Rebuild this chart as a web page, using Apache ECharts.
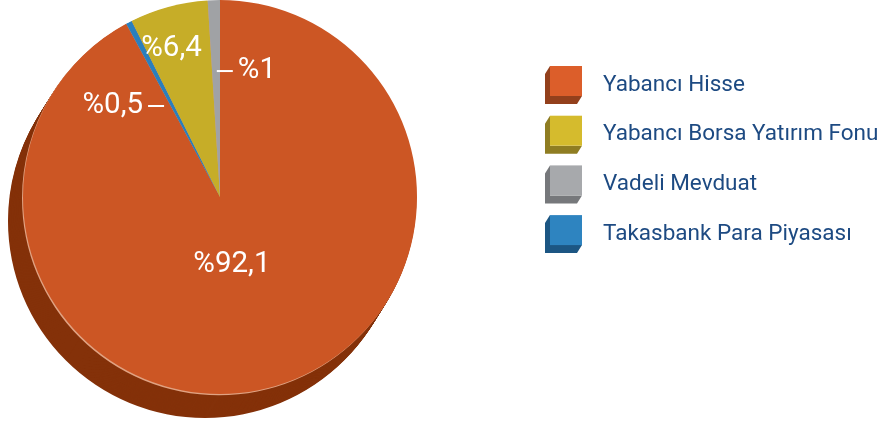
<!DOCTYPE html>
<html><head><meta charset="utf-8">
<script src="https://cdn.jsdelivr.net/npm/echarts@6/dist/echarts.min.js"></script>
<style>html,body{margin:0;padding:0;background:#fff}#c{width:878px;height:428px}</style>
</head><body><div id="c"></div>
<script>
// ---- data ----
const categories = ['Yabancı Hisse', 'Takasbank Para Piyasası', 'Yabancı Borsa Yatırım Fonu', 'Vadeli Mevduat'];
const values = [92.1, 0.5, 6.4, 1];
const labelTexts = ['%92,1', '%0,5', '%6,4', '%1'];
const legendOrder = ['Yabancı Hisse', 'Yabancı Borsa Yatırım Fonu', 'Vadeli Mevduat', 'Takasbank Para Piyasası'];

// ---- styles ----
const faceColors = {
  'Yabancı Hisse': '#cc5624',
  'Takasbank Para Piyasası': '#2a7fbd',
  'Yabancı Borsa Yatırım Fonu': '#c6ad28',
  'Vadeli Mevduat': '#a0a2a5'
};
const sideColors = {
  'Yabancı Hisse': '#843109',
  'Takasbank Para Piyasası': '#1b4f78',
  'Yabancı Borsa Yatırım Fonu': '#7d6d15',
  'Vadeli Mevduat': '#6c6e70'
};
const iconColors = {
  'Yabancı Hisse': '#dc5e2a',
  'Yabancı Borsa Yatırım Fonu': '#d5bb2d',
  'Vadeli Mevduat': '#a7a9ac',
  'Takasbank Para Piyasası': '#2e84c0'
};
const iconSideColors = {
  'Yabancı Hisse': '#93401c',
  'Yabancı Borsa Yatırım Fonu': '#8f7d22',
  'Vadeli Mevduat': '#76787b',
  'Takasbank Para Piyasası': '#1c5683'
};

const CX = 220, CY = 197, R = 197;
const DEPTH_X = -15, DEPTH_Y = 24, STEPS = 24;
const FONT = 'Roboto, "Noto Sans", sans-serif';

const dashBefore = { 3: true };
const dashAfter = { 1: true };
const labelShift = {
  0: { dx: -13, dy: -30.5 },
  1: { dx: -9, dy: -1, align: 'right' },
  2: { dx: -22, dy: -50 },
  3: { dx: 0, dy: -24.5, align: 'left' }
};

function pieData(colorMap, withLabels) {
  return categories.map((name, i) => {
    const item = { name, value: values[i], itemStyle: { color: colorMap[name] } };
    if (withLabels) {
      let f = '{t|' + labelTexts[i] + '}';
      if (dashBefore[i]) f = '{d|}{g|}' + f;
      if (dashAfter[i]) f = f + '{g|}{d|}';
      item.label = { formatter: f };
    }
    return item;
  });
}

const series = [];
for (let k = STEPS; k >= 1; k--) {
  series.push({
    type: 'pie', silent: true, animation: false, legendHoverLink: false,
    center: [CX + DEPTH_X * k / STEPS, CY + DEPTH_Y * k / STEPS], radius: R,
    startAngle: 90, clockwise: true,
    label: { show: false }, labelLine: { show: false },
    data: pieData(sideColors, false), z: 1
  });
}
// light rim
series.push({
  type: 'pie', silent: true, animation: false, legendHoverLink: false,
  center: [CX - 1, CY + 1.2], radius: R,
  startAngle: 90, clockwise: true,
  label: { show: false }, labelLine: { show: false },
  data: categories.map((name, i) => ({ name, value: values[i], itemStyle: { color: '#e0a282' } })), z: 2
});
// face
series.push({
  type: 'pie', animation: false, silent: true,
  center: [CX, CY], radius: R, startAngle: 90, clockwise: true,
  avoidLabelOverlap: false,
  label: {
    show: true, position: 'inside',
    rich: {
      t: { fontFamily: FONT, fontSize: 29.5, color: '#ffffff', lineHeight: 32 },
      g: { width: 5 },
      d: { width: 16, height: 2, backgroundColor: '#ffffff', verticalAlign: 'middle' }
    }
  },
  labelLine: { show: false },
  labelLayout: function (p) {
    const s = labelShift[p.dataIndex] || {};
    const o = { dx: s.dx || 0, dy: s.dy || 0 };
    if (s.align) o.align = s.align;
    return o;
  },
  data: pieData(faceColors, true), z: 3
});

const chart = echarts.init(document.getElementById('c'), null, { renderer: 'canvas' });
chart.setOption({
  backgroundColor: '#ffffff',
  animation: false,
  legend: [
    {
      orient: 'vertical', left: 540, top: 61, itemWidth: 37, itemHeight: 38, itemGap: 11.7,
      icon: 'path://M0,8 L5,0 L5,30 L37,30 L32,38 L0,38 Z',
      selectedMode: false,
      textStyle: { fontFamily: FONT, fontSize: 22.5, color: '#1d4a82', padding: [0, 0, 0, 16] },
      data: legendOrder.map(n => ({ name: n, itemStyle: { color: iconSideColors[n] } })), z: 4
    },
    {
      orient: 'vertical', left: 545, top: 61, itemWidth: 32, itemHeight: 30, itemGap: 19.7,
      icon: 'rect', selectedMode: false,
      formatter: function () { return ''; },
      textStyle: { fontSize: 1 },
      data: legendOrder.map(n => ({ name: n, itemStyle: { color: iconColors[n] } })), z: 5
    }
  ],
  series: series
});
</script>
</body></html>
